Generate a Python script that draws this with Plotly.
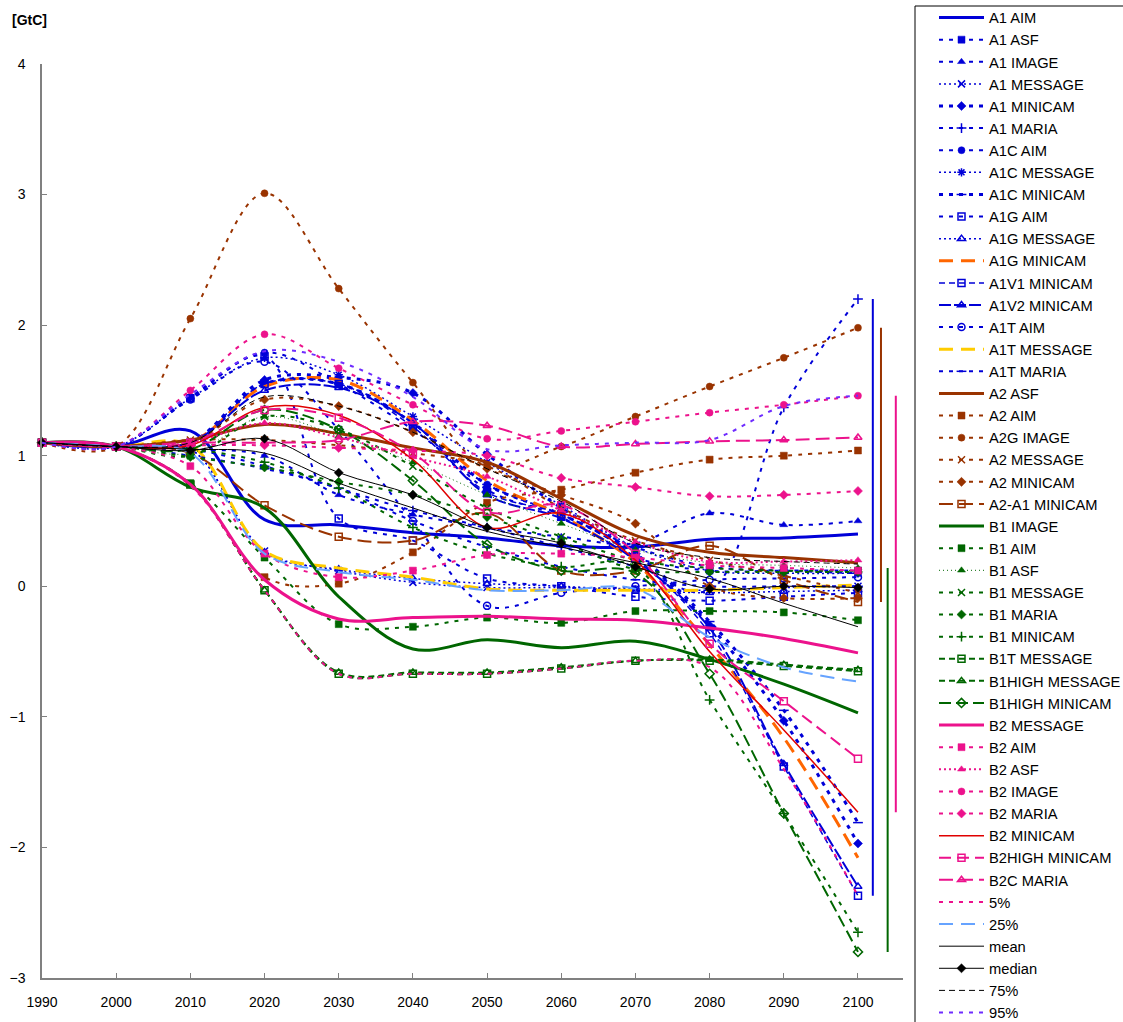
import plotly.graph_objects as go

# Land-use CO2 emissions by scenario and model, 1990-2100 [GtC]
years = [1990, 2000, 2010, 2020, 2030, 2040, 2050, 2060, 2070, 2080, 2090, 2100]

# A1 family
a1_aim = [1.10, 1.07, 1.19, 0.51, 0.47, 0.41, 0.37, 0.31, 0.30, 0.36, 0.37, 0.40]
a1_asf = [1.10, 1.07, 1.08, 1.55, 1.55, 1.25, 0.74, 0.53, 0.22, 0.12, 0.12, 0.12]
a1_image = [1.10, 1.07, 1.05, 1.00, 0.70, 0.55, 0.45, 0.38, 0.33, 0.56, 0.47, 0.50]
a1_message = [1.10, 1.07, 1.05, 0.27, 0.12, 0.03, -0.01, -0.01, -0.02, -0.03, -0.01, 0.00]
a1_minicam = [1.10, 1.07, 1.10, 1.58, 1.60, 1.48, 1.01, 0.60, 0.25, -0.30, -1.03, -1.97]
a1_maria = [1.10, 1.07, 1.05, 0.92, 0.75, 0.58, 0.45, 0.30, 0.15, -0.03, 1.37, 2.20]
a1c_aim = [1.10, 1.07, 1.45, 1.79, 1.55, 1.20, 0.78, 0.55, 0.30, 0.15, 0.12, 0.10]
a1c_message = [1.10, 1.07, 1.44, 1.75, 1.62, 1.30, 0.95, 0.62, 0.30, 0.12, 0.10, 0.10]
a1c_minicam = [1.10, 1.07, 1.10, 1.55, 1.55, 1.25, 0.78, 0.55, 0.25, -0.27, -0.95, -1.81]
a1g_aim = [1.10, 1.07, 1.44, 1.76, 0.52, 0.35, 0.06, 0.00, -0.08, -0.11, -0.08, -0.05]
a1g_message = [1.10, 1.07, 1.05, 0.26, 0.13, 0.06, 0.02, 0.00, -0.03, -0.05, -0.04, -0.03]
a1g_minicam = [1.10, 1.07, 1.10, 1.53, 1.58, 1.27, 0.81, 0.54, 0.18, -0.45, -1.16, -2.08]
a1v1_minicam = [1.10, 1.07, 1.10, 1.55, 1.55, 1.22, 0.72, 0.55, 0.22, -0.36, -1.38, -2.37]
a1v2_minicam = [1.10, 1.07, 1.10, 1.50, 1.52, 1.25, 0.70, 0.52, 0.20, -0.32, -1.36, -2.30]
a1t_aim = [1.10, 1.07, 1.43, 1.72, 1.20, 0.50, -0.15, -0.05, 0.00, 0.05, 0.06, 0.07]
a1t_message = [1.10, 1.07, 1.08, 0.27, 0.14, 0.07, -0.02, -0.03, -0.03, -0.03, -0.01, 0.01]
a1t_maria = [1.10, 1.07, 1.00, 0.90, 0.75, 0.50, 0.30, 0.15, 0.05, 0.00, 0.00, 0.00]

# A2 family
a2_asf = [1.10, 1.07, 1.12, 1.24, 1.17, 1.06, 0.95, 0.67, 0.39, 0.26, 0.22, 0.18]
a2_aim = [1.10, 1.07, 0.78, 0.07, 0.02, 0.26, 0.64, 0.74, 0.87, 0.97, 1.00, 1.04]
a2g_image = [1.10, 1.07, 2.05, 3.01, 2.28, 1.56, 0.92, 1.07, 1.30, 1.53, 1.75, 1.98]
a2_message = [1.10, 1.07, 1.12, 1.12, 1.08, 1.02, 0.92, 0.60, 0.35, 0.20, 0.08, -0.05]
a2_minicam = [1.10, 1.07, 1.10, 1.43, 1.38, 1.18, 0.90, 0.70, 0.48, 0.00, -0.09, -0.09]
a2a1_minicam = [1.10, 1.07, 1.02, 0.62, 0.38, 0.35, 0.56, 0.12, 0.12, 0.31, 0.05, -0.12]

# B1 family
b1_image = [1.10, 1.07, 0.76, 0.60, -0.08, -0.48, -0.41, -0.47, -0.42, -0.56, -0.75, -0.97]
b1_aim = [1.10, 1.07, 0.79, 0.22, -0.29, -0.31, -0.24, -0.28, -0.19, -0.19, -0.20, -0.26]
b1_asf = [1.10, 1.07, 1.02, 1.30, 1.15, 0.95, 0.70, 0.48, 0.28, 0.18, 0.16, 0.14]
b1_message = [1.10, 1.07, 1.00, 1.30, 1.20, 0.92, 0.60, 0.38, 0.20, 0.14, 0.12, 0.12]
b1_maria = [1.10, 1.07, 0.99, 0.91, 0.80, 0.70, 0.53, 0.34, 0.13, 0.11, 0.11, 0.11]
b1_minicam = [1.10, 1.07, 1.05, 0.95, 0.75, 0.45, 0.25, 0.15, 0.15, -0.87, -1.74, -2.65]
b1t_message = [1.10, 1.07, 0.78, -0.03, -0.67, -0.67, -0.67, -0.63, -0.57, -0.57, -0.61, -0.65]
b1high_message = [1.10, 1.07, 0.78, -0.03, -0.66, -0.66, -0.66, -0.62, -0.57, -0.56, -0.60, -0.64]
b1high_minicam = [1.10, 1.07, 1.05, 1.35, 1.20, 0.81, 0.32, 0.12, 0.10, -0.67, -1.74, -2.80]

# B2 family
b2_message = [1.10, 1.07, 0.78, 0.05, -0.25, -0.24, -0.23, -0.25, -0.26, -0.32, -0.40, -0.51]
b2_aim = [1.10, 1.07, 0.92, 0.25, 0.07, 0.12, 0.24, 0.25, 0.22, 0.16, 0.14, 0.12]
b2_asf = [1.10, 1.07, 1.10, 1.25, 1.14, 0.99, 0.84, 0.58, 0.34, 0.19, 0.19, 0.20]
b2_image = [1.10, 1.07, 1.50, 1.93, 1.67, 1.39, 1.13, 1.19, 1.26, 1.33, 1.39, 1.46]
b2_maria = [1.10, 1.07, 1.08, 1.08, 1.06, 1.04, 1.00, 0.83, 0.76, 0.69, 0.70, 0.73]
b2_minicam = [1.10, 1.07, 1.08, 1.37, 1.31, 0.97, 0.45, 0.56, 0.20, -0.50, -1.10, -1.73]
b2high_minicam = [1.10, 1.07, 1.10, 1.35, 1.29, 1.02, 0.57, 0.62, 0.25, -0.44, -0.88, -1.32]
b2c_maria = [1.10, 1.07, 1.10, 1.10, 1.12, 1.26, 1.23, 1.07, 1.09, 1.11, 1.12, 1.14]

# Summary statistics across all scenarios
p5 = [1.10, 1.07, 0.77, -0.03, -0.67, -0.67, -0.67, -0.63, -0.57, -0.62, -1.40, -2.37]
p25 = [1.10, 1.07, 1.02, 0.25, 0.11, 0.05, -0.03, -0.03, -0.02, -0.39, -0.62, -0.73]
mean = [1.10, 1.07, 1.05, 1.02, 0.79, 0.60, 0.42, 0.30, 0.18, 0.06, -0.13, -0.31]
median = [1.10, 1.07, 1.04, 1.13, 0.87, 0.70, 0.45, 0.33, 0.15, -0.02, 0.00, -0.01]
p75 = [1.10, 1.07, 1.10, 1.45, 1.38, 1.18, 0.90, 0.65, 0.33, 0.22, 0.19, 0.17]
p95 = [1.10, 1.07, 1.47, 1.80, 1.72, 1.45, 1.05, 1.08, 1.10, 1.12, 1.38, 1.46]

BLUE = "#0000D8"
BROWN = "#993300"
GREEN = "#006600"
PINK = "#EC128C"
RED = "#E00000"
ORANGE = "#FF6600"
YELLOW = "#FFCC00"
LIGHTBLUE = "#66A3FF"
VIOLET = "#6F2CFF"
BLACK = "#000000"

DASH = "4px,6px"
DOT = "2px,3px"
LONG = "14px,8px"

# name, values, colour, line width, dash, marker symbol
series = [
    ("A1 AIM", a1_aim, BLUE, 3, "solid", None),
    ("A1 ASF", a1_asf, BLUE, 2, DASH, "square"),
    ("A1 IMAGE", a1_image, BLUE, 2, DASH, "triangle-up"),
    ("A1 MESSAGE", a1_message, BLUE, 1.5, DOT, "x-thin"),
    ("A1 MINICAM", a1_minicam, BLUE, 3, DASH, "diamond"),
    ("A1 MARIA", a1_maria, BLUE, 2, DASH, "cross-thin"),
    ("A1C AIM", a1c_aim, BLUE, 2, DASH, "circle"),
    ("A1C MESSAGE", a1c_message, BLUE, 1.5, DOT, "asterisk"),
    ("A1C MINICAM", a1c_minicam, BLUE, 3, DASH, "line-ew"),
    ("A1G AIM", a1g_aim, BLUE, 2, DASH, "square-open"),
    ("A1G MESSAGE", a1g_message, BLUE, 1.5, DOT, "triangle-up-open"),
    ("A1G MINICAM", a1g_minicam, ORANGE, 3, LONG, None),
    ("A1V1 MINICAM", a1v1_minicam, BLUE, 1.5, "6px,4px", "square-open"),
    ("A1V2 MINICAM", a1v2_minicam, BLUE, 2, "12px,3px", "triangle-up-open"),
    ("A1T AIM", a1t_aim, BLUE, 2, DASH, "circle-open"),
    ("A1T MESSAGE", a1t_message, YELLOW, 3, LONG, None),
    ("A1T MARIA", a1t_maria, BLUE, 2, DASH, "line-ew"),
    ("A2 ASF", a2_asf, BROWN, 3, "solid", None),
    ("A2 AIM", a2_aim, BROWN, 2, DASH, "square"),
    ("A2G IMAGE", a2g_image, BROWN, 2, DASH, "circle"),
    ("A2 MESSAGE", a2_message, BROWN, 2, DASH, "x-thin"),
    ("A2 MINICAM", a2_minicam, BROWN, 2, DASH, "diamond"),
    ("A2-A1 MINICAM", a2a1_minicam, BROWN, 2, "14px,6px", "square-open"),
    ("B1 IMAGE", b1_image, GREEN, 3, "solid", None),
    ("B1 AIM", b1_aim, GREEN, 2, DASH, "square"),
    ("B1 ASF", b1_asf, GREEN, 1, "1px,3px", "triangle-up"),
    ("B1 MESSAGE", b1_message, GREEN, 2, DASH, "x-thin"),
    ("B1 MARIA", b1_maria, GREEN, 2, DASH, "diamond"),
    ("B1 MINICAM", b1_minicam, GREEN, 2, DASH, "cross-thin"),
    ("B1T MESSAGE", b1t_message, GREEN, 2, "6px,4px", "square-open"),
    ("B1HIGH MESSAGE", b1high_message, GREEN, 2, "6px,4px", "triangle-up-open"),
    ("B1HIGH MINICAM", b1high_minicam, GREEN, 2, "12px,5px", "diamond-open"),
    ("B2 MESSAGE", b2_message, PINK, 3, "solid", None),
    ("B2 AIM", b2_aim, PINK, 2, DASH, "square"),
    ("B2 ASF", b2_asf, PINK, 2, DOT, "triangle-up"),
    ("B2 IMAGE", b2_image, PINK, 2, DASH, "circle"),
    ("B2 MARIA", b2_maria, PINK, 2, DASH, "diamond"),
    ("B2 MINICAM", b2_minicam, RED, 1.5, "solid", None),
    ("B2HIGH MINICAM", b2high_minicam, PINK, 2, "12px,6px", "square-open"),
    ("B2C MARIA", b2c_maria, PINK, 2, "14px,6px", "triangle-up-open"),
    ("5%", p5, PINK, 2, DASH, None),
    ("25%", p25, LIGHTBLUE, 2, LONG, None),
    ("mean", mean, BLACK, 1, "solid", None),
    ("median", median, BLACK, 1, "solid", "diamond"),
    ("75%", p75, BLACK, 1, "6px,4px", None),
    ("95%", p95, VIOLET, 2, DASH, None),
]

fig = go.Figure()
for name, vals, color, width, dash, symbol in series:
    trace = dict(
        x=years, y=vals, name=name,
        mode="lines+markers" if symbol else "lines",
        line=dict(color=color, width=width, dash=dash, shape="spline", smoothing=1.0),
        cliponaxis=False,
    )
    if symbol:
        open_sym = symbol.endswith("-open") or symbol in ("x-thin", "cross-thin", "asterisk", "line-ew")
        trace["marker"] = dict(
            symbol=symbol,
            size=7,
            color=color,
            line=dict(color=color, width=1.5 if open_sym else 0.5),
        )
    fig.add_trace(go.Scatter(**trace))

# 2100 ranges for each scenario family, drawn as vertical bars right of the data
families = [
    ([a1_aim, a1_asf, a1_image, a1_message, a1_minicam, a1_maria, a1c_aim, a1c_message,
      a1c_minicam, a1g_aim, a1g_message, a1g_minicam, a1v1_minicam, a1v2_minicam,
      a1t_aim, a1t_message, a1t_maria], BLUE, 2102.0),
    ([a2_asf, a2_aim, a2g_image, a2_message, a2_minicam, a2a1_minicam], BROWN, 2103.1),
    ([b1_image, b1_aim, b1_asf, b1_message, b1_maria, b1_minicam, b1t_message,
      b1high_message, b1high_minicam], GREEN, 2104.0),
    ([b2_message, b2_aim, b2_asf, b2_image, b2_maria, b2_minicam, b2high_minicam,
      b2c_maria], PINK, 2105.1),
]
for members, color, xpos in families:
    ends = [m[-1] for m in members]
    fig.add_trace(go.Scatter(
        x=[xpos, xpos], y=[max(ends), min(ends)], mode="lines",
        line=dict(color=color, width=2), showlegend=False, hoverinfo="skip",
    ))

W, H = 1123, 1022
L, R, T, B = 42, 220, 64, 44
plot_w, plot_h = W - L - R, H - T - B


def px_x(p):
    return (p - L) / plot_w


def px_y(p):
    return 1 - (p - T) / plot_h


axis_font = dict(family="Arial, Liberation Sans", size=14, color="black")

fig.update_layout(
    width=W, height=H,
    margin=dict(l=L, r=R, t=T, b=B, autoexpand=False),
    paper_bgcolor="white", plot_bgcolor="white",
    font=dict(family="Arial, Liberation Sans", color="black"),
    xaxis=dict(
        range=[1990, 1990 + plot_w / 7.418], tickmode="array", tickvals=years,
        ticks="inside", ticklen=5, tickcolor="#808080", showline=True,
        linecolor="#808080", linewidth=1.5, showgrid=False, zeroline=False,
        tickfont=axis_font, ticklabelstandoff=10,
    ),
    yaxis=dict(
        range=[-3, 4], dtick=1, tick0=0, ticks="inside", ticklen=5,
        tickcolor="#808080", showline=True, linecolor="#808080", linewidth=1.5,
        showgrid=False, zeroline=False, tickfont=axis_font, ticklabelstandoff=12,
    ),
    legend=dict(
        x=px_x(934), y=px_y(1.5), xanchor="left", yanchor="top",
        bgcolor="rgba(0,0,0,0)", borderwidth=0,
        font=dict(family="Arial, Liberation Sans", size=14.7, color="black"),
        itemwidth=45, tracegroupgap=0, maxheight=3000,
    ),
    shapes=[dict(
        type="rect", xref="paper", yref="paper",
        x0=px_x(915), x1=px_x(1140), y0=px_y(1060), y1=px_y(6),
        line=dict(color="black", width=1), fillcolor="rgba(0,0,0,0)", layer="below",
    )],
    annotations=[dict(
        text="<b>[GtC]</b>", xref="paper", yref="paper",
        x=px_x(29), y=px_y(20), xanchor="center", yanchor="middle", showarrow=False,
        font=dict(family="Arial, Liberation Sans", size=14, color="black"),
    )],
    showlegend=True,
)

fig.write_html("out.html")
